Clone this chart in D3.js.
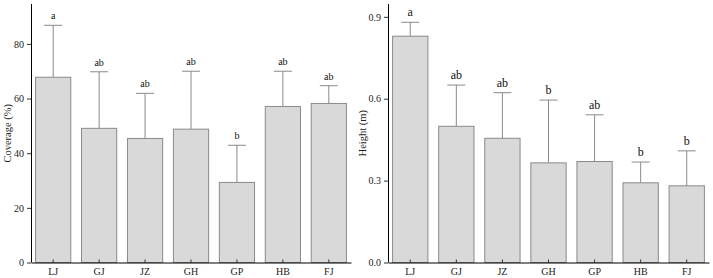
<!DOCTYPE html>
<html>
<head>
<meta charset="utf-8">
<script src="https://cdn.jsdelivr.net/npm/d3@7/dist/d3.min.js"></script>
<style>
  body { margin: 0; background: #fff; }
  svg { display: block; }
  svg text { font-family: "Liberation Serif", "Times New Roman", Times, serif; }
</style>
</head>
<body>
<svg id="chart" width="713" height="278"></svg>
<script>
const sites = ['LJ', 'GJ', 'JZ', 'GH', 'GP', 'HB', 'FJ']

const coverage = [67.8, 49.1, 45.4, 48.8, 29.3, 57.1, 58.2]
const coverageSd = [19.0, 20.7, 16.5, 21.2, 13.6, 12.9, 6.5]
const coverageLetters = ['a', 'ab', 'ab', 'ab', 'b', 'ab', 'ab']
const coverageTicks = [0, 20, 40, 60, 80]

const height = [0.829, 0.499, 0.455, 0.365, 0.370, 0.292, 0.281]
const heightSd = [0.051, 0.151, 0.167, 0.230, 0.171, 0.076, 0.128]
const heightLetters = ['a', 'ab', 'ab', 'b', 'ab', 'b', 'b']
const heightTicks = [0, 0.3, 0.6, 0.9]

const svg = d3.select('#chart')
const baseY = 262.5, topY = 4

function panel(opt) {
  const x = d3.scaleBand().domain(sites).range([opt.x0, opt.x1])
    .paddingInner(0.234).paddingOuter(0.1)
  const y = d3.scaleLinear().domain([0, opt.max]).range([baseY, topY])
  const g = svg.append('g')

  const rows = sites.map((s, i) => ({ s: s, v: opt.values[i], sd: opt.sd[i], l: opt.letters[i] }))

  // error bars (upper only)
  g.selectAll('line.err').data(rows).join('line')
    .attr('class', 'err')
    .attr('x1', d => x(d.s) + x.bandwidth() / 2)
    .attr('x2', d => x(d.s) + x.bandwidth() / 2)
    .attr('y1', d => y(d.v)).attr('y2', d => y(d.v + d.sd))
    .attr('stroke', '#8a8a8a').attr('stroke-width', 1)
  g.selectAll('line.cap').data(rows).join('line')
    .attr('class', 'cap')
    .attr('x1', d => x(d.s) + x.bandwidth() / 2 - 9)
    .attr('x2', d => x(d.s) + x.bandwidth() / 2 + 9)
    .attr('y1', d => y(d.v + d.sd)).attr('y2', d => y(d.v + d.sd))
    .attr('stroke', '#8a8a8a').attr('stroke-width', 1)

  g.selectAll('rect').data(rows).join('rect')
    .attr('x', d => x(d.s)).attr('width', x.bandwidth())
    .attr('y', d => y(d.v)).attr('height', d => y(0) - y(d.v))
    .attr('fill', '#d9d9d9').attr('stroke', '#8a8a8a').attr('stroke-width', 1)

  g.selectAll('text.sig').data(rows).join('text')
    .attr('class', 'sig')
    .attr('x', d => x(d.s) + x.bandwidth() / 2)
    .attr('y', d => y(d.v + d.sd) - 6)
    .attr('text-anchor', 'middle')
    .attr('font-size', opt.sigSize)
    .attr('fill', '#111')
    .text(d => d.l)

  // axes
  const yAxis = g.append('g').attr('transform', 'translate(' + opt.x0 + ',0)')
    .call(d3.axisLeft(y).tickValues(opt.ticks).tickFormat(opt.fmt).tickSize(4).tickSizeOuter(0))
  yAxis.select('.domain').attr('d', 'M0.5,' + baseY + 'V' + topY)
  yAxis.selectAll('text').attr('font-size', 10).attr('font-family', null).attr('fill', '#222')

  const xAxis = g.append('g').attr('transform', 'translate(0,' + baseY + ')')
    .call(d3.axisBottom(x).tickSize(-3).tickSizeOuter(0).tickPadding(5))
  xAxis.selectAll('text').attr('font-size', 10).attr('font-family', null).attr('fill', '#222')
  g.selectAll('.tick line').attr('stroke', '#333')

  svg.append('text')
    .attr('transform', 'translate(' + opt.titleX + ',' + ((baseY + topY) / 2) + ') rotate(-90)')
    .attr('text-anchor', 'middle')
    .attr('font-size', 10.5)
    .attr('fill', '#222')
    .text(opt.title)
}

panel({ x0: 31, x1: 351, max: 94.6, values: coverage, sd: coverageSd, letters: coverageLetters,
  ticks: coverageTicks, fmt: d3.format('d'), sigSize: 10, title: 'Coverage (%)', titleX: 11 })

panel({ x0: 388, x1: 709, max: 0.947, values: height, sd: heightSd, letters: heightLetters,
  ticks: heightTicks, fmt: d3.format('.1f'), sigSize: 12, title: 'Height (m)', titleX: 366 })
</script>
</body>
</html>
